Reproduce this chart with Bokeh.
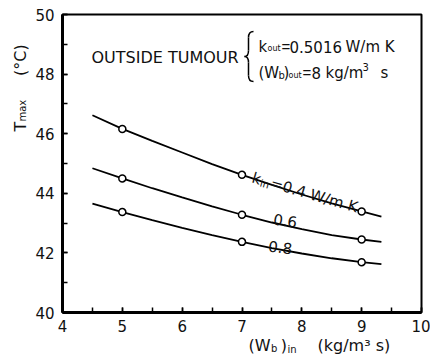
import math
from bokeh.plotting import figure
from bokeh.models import Label, SingleIntervalTicker, Range1d
from bokeh.embed import file_html
from bokeh.resources import INLINE

# ---- data ----
wb_in = [4.5, 5.0, 5.5, 6.0, 6.5, 7.0, 7.5, 8.0, 8.5, 9.0, 9.33]
t_k04 = [46.62, 46.16, 45.76, 45.37, 44.98, 44.62, 44.28, 43.96, 43.66, 43.39, 43.22]
t_k06 = [44.84, 44.50, 44.17, 43.86, 43.56, 43.28, 43.02, 42.80, 42.60, 42.45, 42.37]
t_k08 = [43.65, 43.37, 43.10, 42.84, 42.60, 42.37, 42.16, 41.98, 41.82, 41.69, 41.62]
marker_x = [5.0, 7.0, 9.0]
x_ticks = [4, 5, 6, 7, 8, 9, 10]
y_ticks = [40, 42, 44, 46, 48, 50]

W, H = 430, 355
L, R, T, B = 62, 9, 14, 43
X0, X1, Y0, Y1 = 4, 10, 40, 50
FW, FH = W - L - R, H - T - B
NB = "\u00a0"

def dx(px):
    return X0 + (px - L) * (X1 - X0) / FW

def dy(py):
    return Y1 - (py - T) * (Y1 - Y0) / FH

p = figure(width=W, height=H, output_backend="svg", toolbar_location=None,
           x_range=Range1d(X0, X1), y_range=Range1d(Y0, Y1),
           min_border_left=L, min_border_right=R, min_border_top=T, min_border_bottom=B)
p.background_fill_color = "white"
p.border_fill_color = "white"
p.outline_line_color = "black"
p.outline_line_width = 2
p.xgrid.visible = False
p.ygrid.visible = False

p.xaxis.ticker = SingleIntervalTicker(interval=1, num_minor_ticks=2)
p.yaxis.ticker = SingleIntervalTicker(interval=2, num_minor_ticks=2)
for ax in (p.xaxis, p.yaxis):
    ax.axis_line_width = 3
    ax.axis_line_color = "black"
    ax.major_tick_in = 5
    ax.major_tick_out = 0
    ax.minor_tick_in = 5
    ax.minor_tick_out = 0
    ax.major_tick_line_width = 1.5
    ax.minor_tick_line_width = 1.5
    ax.major_label_text_font = "DejaVu Sans"
    ax.major_label_text_font_size = "15px"
    ax.major_label_text_color = "#111111"
p.xaxis.major_label_standoff = 7
p.yaxis.major_label_standoff = 8

def series(ys):
    return [y for x, y in zip(wb_in, ys) if x in marker_x]

for ys in (t_k04, t_k06, t_k08):
    p.line(wb_in, ys, line_color="black", line_width=1.8)
    p.scatter(marker_x, series(ys), marker="circle", size=7, fill_color="white",
              line_color="black", line_width=1.5)

def lab(px, py, text, size=15, angle=0.0, font="DejaVu Sans", place=None):
    lb = Label(x=dx(px), y=dy(py), text=text, text_font=font,
               text_font_size=f"{size}px", text_baseline="alphabetic",
               text_align="left", angle=angle, text_color="#111111")
    if place is None:
        p.add_layout(lb)
    else:
        p.add_layout(lb, place)

# annotation
lab(91, 57, "OUTSIDE TUMOUR", 16)
lab(258, 46, "k", 15)
lab(267, 48, "out", 8)
lab(281, 46, "=", 15, font="Liberation Sans")
lab(289, 46, "0.5016", 15)
lab(345, 46, "W/m K", 15)
lab(258, 72, "(W", 15)
lab(278, 75, "b", 10)
lab(283, 72, ")", 15)
lab(288, 75, "out", 8)
lab(302, 72, "=", 15, font="Liberation Sans")
lab(311, 72, "8", 15)
lab(325, 72, "kg/m", 15)
lab(362, 66, "3", 10)
lab(380, 72, "s", 15)

# brace
bx = [(253, 31, 248, 37, 249.5, 31, 248, 33),
      (248, 37, 248, 50, 248, 41, 248, 46),
      (248, 50, 244, 56, 248, 54, 246, 56),
      (244, 56, 248, 62, 246, 56, 248, 58),
      (248, 62, 248, 75, 248, 66, 248, 71),
      (248, 75, 253, 81, 248, 79, 249.5, 81)]
p.bezier(x0=[dx(b[0]) for b in bx], y0=[dy(b[1]) for b in bx],
         x1=[dx(b[2]) for b in bx], y1=[dy(b[3]) for b in bx],
         cx0=[dx(b[4]) for b in bx], cy0=[dy(b[5]) for b in bx],
         cx1=[dx(b[6]) for b in bx], cy1=[dy(b[7]) for b in bx],
         line_color="black", line_width=1.5)

# curve labels
a = math.radians(16)
d = (math.cos(a), math.sin(a))
pp = (-math.sin(a), math.cos(a))
A = (252, 177)
lab(A[0], A[1], "k", 15, -a)
lab(A[0] + 9 * d[0] + 3 * pp[0], A[1] + 9 * d[1] + 3 * pp[1], "in", 10, -a)
lab(A[0] + 19 * d[0], A[1] + 19 * d[1], "=0.4 W/m K", 15, -a)
lab(273, 218, "0.6", 15, -0.14)
lab(268, 245, "0.8", 15, -0.12)

# axis titles: side-panel labels (not clipped), spread over the panels with spare room
lab(248, 345, "(W" + NB * 2 + ")" + NB * 6 + "(kg/m³ s)", 16, place="below")
lab(270.5, 348, "b", 10, place="right")
lab(287, 349, "in", 10, place="above")

lab(20, 131, "T" + NB * 9 + "(°C)", 16, math.pi / 2, place="left")
lab(22, 121, "max", 10, math.pi / 2, place="left")

open("out.html", "w").write(file_html(p, INLINE))
